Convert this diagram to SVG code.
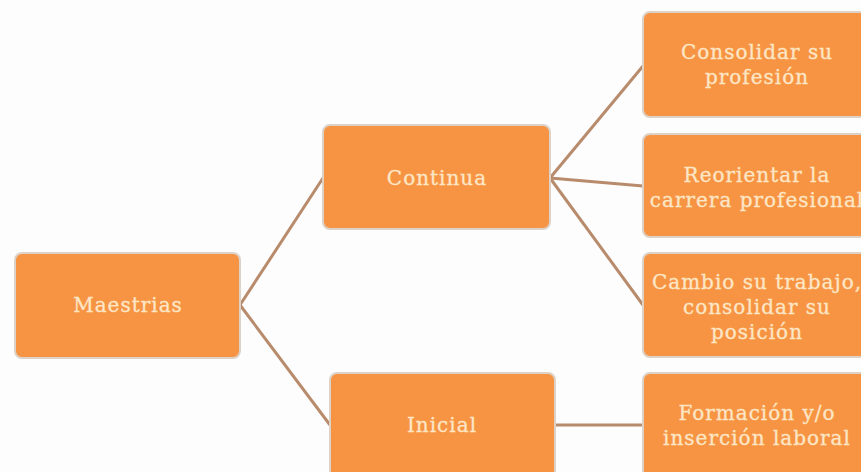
<svg xmlns="http://www.w3.org/2000/svg" width="861" height="472" viewBox="0 0 861 472">
<style>
.box{fill:#f79443;stroke:#ddd2c8;stroke-width:2}
.t{font-family:"DejaVu Serif","Liberation Serif",serif;font-size:20px;letter-spacing:1px;fill:#fde6c6;stroke:#fde6c6;stroke-width:0.3;text-anchor:middle}
.c{stroke:#b88b6c;stroke-width:3;fill:none}
</style>
<rect width="861" height="472" fill="#fdfdfd"/>
<g id="connectors">
<line class="c" x1="240" y1="305" x2="323" y2="178"/>
<line class="c" x1="240" y1="305" x2="330" y2="425"/>
<line class="c" x1="550" y1="178" x2="643" y2="66"/>
<line class="c" x1="550" y1="178" x2="643" y2="186"/>
<line class="c" x1="550" y1="178" x2="643" y2="305"/>
<line class="c" x1="555" y1="425" x2="643" y2="425"/>
</g>
<g id="maestrias"><rect class="box" x="15" y="253" width="225" height="105" rx="7"/><text class="t" x="128" y="312">Maestrias</text></g>
<g id="continua"><rect class="box" x="323" y="125" width="227" height="104" rx="7"/><text class="t" x="437" y="185">Continua</text></g>
<g id="inicial"><rect class="box" x="330" y="373" width="225" height="110" rx="7"/><text class="t" x="442" y="432">Inicial</text></g>
<g id="consolidar"><rect class="box" x="643" y="12" width="230" height="105" rx="7"/><text class="t" x="757" y="59">Consolidar su</text><text class="t" x="757" y="84">profesión</text></g>
<g id="reorientar"><rect class="box" x="643" y="134" width="230" height="103" rx="7"/><text class="t" x="757" y="182">Reorientar la</text><text class="t" x="757" y="207">carrera profesional</text></g>
<g id="cambio"><rect class="box" x="643" y="253" width="230" height="104" rx="7"/><text class="t" x="757" y="289">Cambio su trabajo,</text><text class="t" x="757" y="314">consolidar su</text><text class="t" x="757" y="339">posición</text></g>
<g id="formacion"><rect class="box" x="643" y="373" width="230" height="110" rx="7"/><text class="t" x="757" y="420">Formación y/o</text><text class="t" x="757" y="445">inserción laboral</text></g>
</svg>
